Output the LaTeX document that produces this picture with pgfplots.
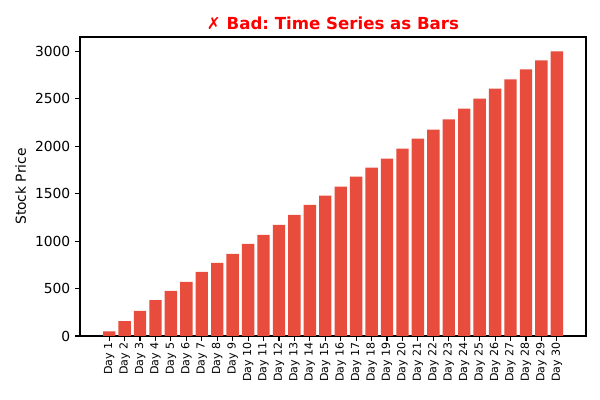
\documentclass[border=0pt]{standalone}
\usepackage{pgfplots}
\pgfplotsset{compat=1.18}
\usepackage{fontspec}
\setmainfont{DejaVu Sans}
\frenchspacing
\definecolor{barred}{HTML}{E74C3C}
\definecolor{titlered}{HTML}{FF0000}
\begin{document}
\begin{tikzpicture}
\path[use as bounding box] (0,0) rectangle (6in,4in);
\begin{axis}[
  at={(0.80in,0.64in)}, anchor=south west,
  scale only axis,
  width=5.06in, height=2.99in,
  xmin=-1.89, xmax=30.89,
  ymin=0, ymax=3150,
  ytick={0,500,1000,1500,2000,2500,3000},
  xtick={0,...,29},
  xticklabels={Day 1,Day 2,Day 3,Day 4,Day 5,Day 6,Day 7,Day 8,Day 9,Day 10,Day 11,Day 12,Day 13,Day 14,Day 15,Day 16,Day 17,Day 18,Day 19,Day 20,Day 21,Day 22,Day 23,Day 24,Day 25,Day 26,Day 27,Day 28,Day 29,Day 30},
  x tick label style={rotate=90, anchor=east, font=\fontsize{8}{9}\selectfont, inner sep=1pt},
  y tick label style={font=\fontsize{10}{12}\selectfont},
  /pgf/number format/assume math mode=true,
  scaled y ticks=false,
  yticklabel style={/pgf/number format/1000 sep={}},
  tick align=outside,
  major tick length=3.5pt,
  tick style={black, line width=0.8pt},
  axis line style={line width=0.8pt},
  xtick pos=bottom, ytick pos=left,
  ylabel={Stock Price},
  ylabel style={font=\fontsize{10}{12}\selectfont, at={(axis description cs:-0.117,0.5)}, anchor=center},
  title={\textbf{✗ Bad: Time Series as Bars}},
  title style={font=\fontsize{12}{14}\selectfont, text=titlered, at={(axis description cs:0.5,1)}, anchor=base, yshift=-0.5pt, inner sep=0pt},
  ybar, bar width=0.8, bar shift=0pt,
]
\addplot[fill=barred, draw=none] coordinates {
(0,50) (1,158) (2,264) (3,378) (4,475) (5,570) (6,675) (7,770) (8,866) (9,970)
(10,1066) (11,1172) (12,1277) (13,1382) (14,1478) (15,1573) (16,1679) (17,1774) (18,1869) (19,1975)
(20,2080) (21,2175) (22,2281) (23,2395) (24,2500) (25,2605) (26,2703) (27,2808) (28,2904) (29,2999)
};
\end{axis}
\end{tikzpicture}
\end{document}
